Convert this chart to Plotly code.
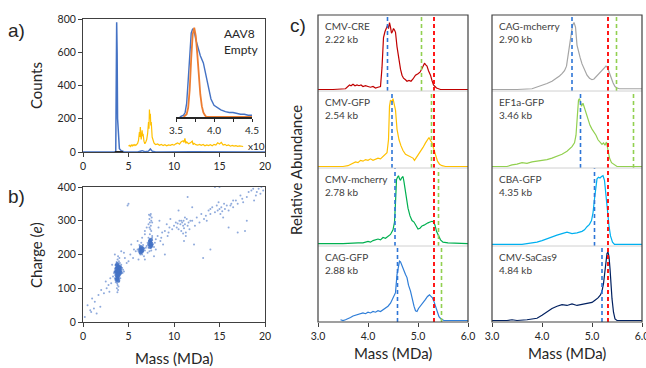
import plotly.graph_objects as go

W, H = 646, 368
def fx(p): return p / W
def fy(p): return 1 - p / H

# ---------------- Panel a data ----------------
a_blue_mass = [0, 3.5, 3.6, 3.65, 3.7, 3.75, 3.8, 3.9, 4.0, 4.2, 4.5, 5.0, 6.0, 6.3, 6.5, 6.8, 7.2, 7.4, 7.6, 8.0, 10.0, 12.0, 20.0]
a_blue_counts = [0, 0, 5, 300, 780, 600, 200, 60, 20, 8, 2, 0, 0, 5, 8, 2, 5, 18, 5, 0, 2, 1, 0]

a_x10_mass = [5.0, 5.1, 5.2, 5.3, 5.4, 5.5, 5.6, 5.7, 5.8, 5.9, 6.0, 6.1, 6.2, 6.25, 6.3, 6.35, 6.4, 6.5, 6.55, 6.6, 6.7, 6.8, 6.9,
              7.0, 7.1, 7.2, 7.25, 7.3, 7.35, 7.4, 7.45, 7.5, 7.6, 7.7, 7.8, 7.9, 8.0,
              8.2, 8.4, 8.6, 8.8, 9.0, 9.2, 9.4, 9.6, 9.8, 10.0, 10.2, 10.4, 10.6, 10.8, 11.0, 11.1, 11.2, 11.3, 11.4, 11.6, 11.8,
              12.0, 12.1, 12.2, 12.4, 12.6, 12.8, 13.0, 13.2, 13.4, 13.6, 13.8, 14.0, 14.2, 14.4, 14.6, 14.8, 15.0, 15.2,
              15.4, 15.6, 15.8, 16.0, 16.2, 16.4, 16.6, 16.8, 17.0, 17.2, 17.4, 17.6]
a_x10_counts = [35, 40, 33, 42, 36, 44, 38, 45, 40, 48, 52, 70, 120, 90, 150, 100, 75, 130, 95, 110, 65, 50, 60,
                75, 110, 180, 140, 255, 200, 230, 160, 180, 90, 60, 55, 48, 45,
                48, 40, 46, 39, 44, 37, 43, 40, 46, 41, 49, 55, 47, 62, 68, 58, 82, 52, 60, 50, 55,
                65, 45, 52, 44, 41, 46, 40, 45, 37, 43, 39, 44, 38, 46, 42, 55, 48, 58,
                42, 46, 38, 42, 35, 40, 36, 38, 34, 37, 35, 33]

inset_mass_blue = [3.55, 3.6, 3.62, 3.64, 3.66, 3.68, 3.70, 3.72, 3.74, 3.76, 3.78, 3.80, 3.82, 3.84, 3.86, 3.88, 3.90, 3.93, 3.96,
                   4.0, 4.05, 4.09, 4.15, 4.2, 4.25, 4.3, 4.35, 4.4, 4.45, 4.5]
inset_blue = [0, 0.02, 0.05, 0.15, 0.4, 0.72, 0.93, 0.98, 0.95, 0.86, 0.78, 0.74, 0.68, 0.64, 0.6, 0.52, 0.44, 0.3, 0.2,
              0.13, 0.1, 0.08, 0.06, 0.05, 0.05, 0.04, 0.03, 0.03, 0.02, 0.02]
inset_mass_orange = [3.6, 3.64, 3.66, 3.68, 3.70, 3.72, 3.74, 3.76, 3.78, 3.80, 3.82, 3.84, 3.86, 3.88, 3.9, 4.0, 4.5]
inset_orange = [0, 0.03, 0.1, 0.3, 0.65, 0.92, 0.99, 0.9, 0.7, 0.45, 0.25, 0.12, 0.05, 0.02, 0.0, 0.0, 0.0]

# ---------------- Panel b data ----------------
b_mass = [3.55, 3.6, 3.62, 3.65, 3.68, 3.7, 3.72, 3.74, 3.75, 3.78, 3.8, 3.8, 3.82, 3.84, 3.85, 3.87, 3.88, 3.9, 3.92, 3.93,
          3.95, 3.97, 4.0, 4.02, 4.05, 4.08, 4.1, 4.12, 4.15, 4.2, 4.25, 4.3, 3.7, 3.75, 3.8, 3.85, 3.9, 3.65, 3.6, 3.72,
          3.85, 3.78, 3.9, 3.5, 3.45, 3.4, 3.58, 3.7, 3.8, 3.85, 3.95, 4.05, 4.2, 4.35, 4.4, 4.5, 3.3, 3.95, 4.1, 4.0,
          6.1, 6.2, 6.25, 6.3, 6.35, 6.4, 6.45, 6.5, 6.55, 6.6, 6.7, 6.8, 6.3, 6.5, 6.2, 6.6, 6.0, 6.9, 6.4, 6.7,
          7.0, 7.1, 7.2, 7.25, 7.3, 7.35, 7.4, 7.45, 7.5, 7.55, 7.6, 7.7, 7.8, 7.3, 7.5, 7.2, 7.6, 7.9, 8.0, 7.1,
          7.2, 7.3, 7.35, 7.4, 7.45, 7.5, 7.55, 7.3, 7.6, 7.4, 7.25, 7.5, 7.35, 7.45,
          10.3, 10.5, 10.7, 10.8, 10.9, 11.0, 11.05, 11.1, 11.2, 11.3, 11.4, 11.5, 11.7, 11.0, 11.2, 10.6, 11.6, 11.8, 10.4, 11.3, 11.1,
          14.2, 14.5, 14.7, 14.8, 15.0, 15.1, 15.2, 15.3, 15.5, 15.6, 15.8, 16.0, 14.9, 15.4, 16.3, 16.5, 14.0,
          0.2, 0.5, 0.8, 1.0, 1.3, 1.2, 1.5, 1.7, 2.0, 2.3, 2.5, 2.8, 3.0, 3.2, 2.9, 1.9, 4.8, 5.0, 5.2, 5.5,
          5.8, 4.5, 5.0, 4.9, 6.0, 6.5, 6.8, 8.2, 8.5, 8.7, 9.0, 9.3, 9.5, 8.8, 9.2, 9.8, 10.0, 10.2, 8.3, 8.0,
          9.0, 12.0, 12.3, 12.5, 12.8, 13.0, 13.3, 13.5, 13.2, 12.2, 14.0, 13.6, 14.0, 16.8, 17.0, 17.3, 17.5, 17.8, 18.0, 18.2,
          18.5, 18.8, 19.0, 19.3, 19.6, 19.5, 19.8, 16.0, 17.0, 18.0, 18.7, 11.5, 14.5, 15.0, 16.5, 12.0, 10.5, 6.8, 7.0, 7.6,
          8.4, 9.6, 3.5, 4.2, 5.3, 6.1, 6.8, 7.8, 2.6, 3.1, 4.6, 5.6, 8.6, 9.4, 10.8, 13.8, 16.2, 17.6, 19.1, 0.9]
b_charge = [140, 152, 160, 145, 135, 155, 148, 165, 140, 158, 150, 130, 170, 145, 155, 138, 162, 150, 143, 157,
            165, 148, 152, 140, 158, 147, 162, 150, 143, 155, 150, 160, 120, 115, 110, 125, 128, 125, 118, 100,
            95, 88, 105, 130, 150, 145, 170, 178, 185, 195, 180, 175, 170, 145, 155, 150, 135, 120, 130, 190,
            210, 218, 205, 222, 212, 218, 208, 215, 222, 210, 218, 212, 200, 200, 228, 228, 215, 220, 235, 195,
            225, 235, 220, 240, 228, 245, 232, 220, 238, 228, 242, 230, 222, 210, 212, 250, 255, 235, 245, 205,
            290, 305, 295, 315, 285, 300, 310, 280, 295, 275, 318, 270, 260, 320,
            280, 275, 290, 270, 295, 285, 300, 278, 290, 265, 305, 285, 275, 262, 310, 300, 295, 300, 292, 255, 240,
            340, 325, 345, 330, 335, 320, 340, 328, 350, 335, 345, 330, 355, 310, 350, 340, 335,
            15, 50, 35, 70, 60, 40, 25, 80, 95, 85, 120, 110, 130, 170, 90, 45, 175, 180, 200, 190,
            210, 205, 350, 345, 240, 250, 260, 255, 240, 265, 270, 255, 280, 230, 290, 275, 285, 295, 280, 215,
            200, 300, 285, 310, 295, 320, 305, 315, 190, 230, 215, 300, 320, 360, 350, 375, 365, 270, 370, 385,
            390, 360, 375, 395, 400, 380, 390, 280, 265, 300, 395, 370, 400, 400, 360, 340, 330, 270, 280, 250,
            300, 305, 200, 210, 230, 185, 185, 195, 100, 115, 190, 215, 250, 265, 300, 330, 345, 355, 385, 30]
b_core_mass = [3.62, 3.7, 3.8, 3.9, 4.0, 3.75, 3.85, 3.7, 3.85, 4.05, 3.95, 3.8, 3.65, 4.1, 3.72, 3.92, 3.78, 3.98, 3.68, 3.88,
               3.75, 3.82, 3.95, 4.08,
               6.28, 6.4, 6.5, 6.35, 6.55, 6.45, 6.32,
               7.28, 7.4, 7.5, 7.35, 7.45, 7.38, 7.52, 7.42]
b_core_charge = [148, 150, 145, 152, 150, 160, 163, 138, 135, 155, 140, 128, 158, 146, 168, 165, 172, 160, 125, 122,
                 130, 142, 152, 162,
                 214, 216, 212, 222, 218, 208, 206,
                 230, 236, 225, 240, 244, 222, 232, 228]

# ---------------- Panel c data ----------------
c_names = ["CMV-CRE", "CMV-GFP", "CMV-mcherry", "CAG-GFP", "CAG-mcherry", "EF1a-GFP", "CBA-GFP", "CMV-SaCas9"]
c_sizes = ["2.22 kb", "2.54 kb", "2.78 kb", "2.88 kb", "2.90 kb", "3.46 kb", "4.35 kb", "4.84 kb"]
c_colors = ["#C00000", "#FFC000", "#00B050", "#2F7ED8", "#A5A5A5", "#92D050", "#00B0F0", "#002060"]
c_blue_line = [4.39, 4.48, 4.54, 4.59, 4.60, 4.77, 5.05, 5.20]
c_green_line = [5.07, 5.27, 5.41, 5.47, 5.49, 5.83, None, None]
c_red_line = 5.32

cmv_cre_mass = [3.0, 3.3, 3.55, 3.6, 3.63, 3.66, 3.7, 3.74, 3.78, 3.82, 3.86, 3.9, 3.95, 4.0, 4.05, 4.1, 4.15, 4.2, 4.25, 4.28,
                4.31, 4.34, 4.37, 4.39, 4.41, 4.43, 4.45, 4.47, 4.49, 4.51, 4.53, 4.55, 4.58, 4.62, 4.65, 4.68, 4.71, 4.75, 4.78, 4.82,
                4.86, 4.9, 4.95, 5.0, 5.04, 5.08, 5.11, 5.13, 5.15, 5.18, 5.21, 5.25, 5.28, 5.31, 5.34, 5.37, 5.41, 5.45, 5.5, 5.7, 6.0]
cmv_cre_abund = [0.01, 0.01, 0.02, 0.06, 0.07, 0.06, 0.08, 0.06, 0.07, 0.06, 0.07, 0.05, 0.06, 0.05, 0.04, 0.05, 0.03, 0.04, 0.05, 0.3,
                 0.7, 0.78, 0.84, 0.86, 0.82, 0.9, 0.84, 0.76, 0.78, 0.82, 0.8, 0.77, 0.58, 0.38, 0.28, 0.2, 0.16, 0.14, 0.12, 0.13,
                 0.12, 0.15, 0.2, 0.22, 0.24, 0.29, 0.33, 0.36, 0.34, 0.32, 0.26, 0.2, 0.13, 0.07, 0.05, 0.03, 0.02, 0.01, 0.01, 0.01, 0.01]

cmv_gfp_mass = [3.0, 3.5, 3.6, 3.65, 3.7, 3.75, 3.8, 3.85, 3.9, 3.95, 4.0, 4.05, 4.1, 4.15, 4.2, 4.25, 4.3, 4.35, 4.38, 4.41,
                4.43, 4.45, 4.48, 4.5, 4.52, 4.55, 4.58, 4.62, 4.66, 4.7, 4.75, 4.8, 4.85, 4.9, 4.93, 4.97, 5.0, 5.05, 5.1, 5.15,
                5.19, 5.22, 5.25, 5.28, 5.31, 5.35, 5.39, 5.43, 5.48, 5.55, 6.0]
cmv_gfp_abund = [0.01, 0.01, 0.02, 0.04, 0.05, 0.07, 0.06, 0.09, 0.08, 0.1, 0.09, 0.11, 0.09, 0.1, 0.12, 0.11, 0.14, 0.16, 0.19, 0.36,
                 0.8, 0.88, 0.86, 0.9, 0.85, 0.75, 0.5, 0.36, 0.28, 0.22, 0.17, 0.15, 0.13, 0.12, 0.09, 0.13, 0.15, 0.2, 0.26, 0.32,
                 0.37, 0.39, 0.35, 0.32, 0.25, 0.15, 0.08, 0.04, 0.02, 0.01, 0.01]

cmv_mch_mass = [3.0, 3.5, 3.8, 3.9, 4.0, 4.05, 4.1, 4.15, 4.2, 4.25, 4.3, 4.35, 4.4, 4.45, 4.5, 4.53, 4.55, 4.57, 4.59, 4.61,
                4.63, 4.65, 4.67, 4.7, 4.72, 4.74, 4.77, 4.8, 4.84, 4.88, 4.92, 4.96, 5.0, 5.04, 5.08, 5.12, 5.16, 5.2, 5.24, 5.28,
                5.31, 5.34, 5.37, 5.41, 5.45, 5.5, 5.6, 6.0]
cmv_mch_abund = [0.02, 0.02, 0.03, 0.03, 0.05, 0.04, 0.06, 0.07, 0.08, 0.07, 0.1, 0.09, 0.12, 0.14, 0.2, 0.3, 0.55, 0.85, 0.88, 0.9,
                 0.86, 0.84, 0.87, 0.89, 0.82, 0.72, 0.6, 0.48, 0.38, 0.32, 0.3, 0.25, 0.21, 0.22, 0.25, 0.26, 0.28, 0.29, 0.3, 0.31,
                 0.3, 0.26, 0.18, 0.12, 0.07, 0.04, 0.03, 0.02]

cag_gfp_mass = [3.45, 3.5, 3.55, 3.6, 3.65, 3.7, 3.78, 3.85, 3.9, 3.95, 4.0, 4.05, 4.1, 4.15, 4.2, 4.25, 4.3, 4.35, 4.4, 4.45,
                4.5, 4.55, 4.58, 4.61, 4.63, 4.65, 4.67, 4.69, 4.72, 4.75, 4.78, 4.81, 4.85, 4.88, 4.92, 4.95, 4.98, 5.01, 5.05, 5.1,
                5.15, 5.19, 5.23, 5.26, 5.29, 5.32, 5.35, 5.38, 5.42, 5.46, 5.52, 5.6, 6.0]
cag_gfp_abund = [0.02, 0.01, 0.02, 0.03, 0.05, 0.07, 0.09, 0.1, 0.11, 0.1, 0.12, 0.11, 0.13, 0.12, 0.14, 0.13, 0.15, 0.17, 0.2, 0.24,
                 0.3, 0.38, 0.62, 0.76, 0.8, 0.79, 0.75, 0.72, 0.66, 0.62, 0.58, 0.48, 0.4, 0.3, 0.2, 0.14, 0.13, 0.17, 0.2, 0.25,
                 0.29, 0.33, 0.35, 0.33, 0.31, 0.26, 0.2, 0.11, 0.06, 0.03, 0.01, 0.01, 0.01]

cag_mch_mass = [3.0, 3.5, 3.8, 3.9, 4.0, 4.1, 4.2, 4.3, 4.35, 4.4, 4.45, 4.49, 4.52, 4.55, 4.58, 4.61, 4.64, 4.67, 4.7, 4.73,
                4.76, 4.8, 4.85, 4.9, 4.95, 5.0, 5.04, 5.08, 5.12, 5.16, 5.2, 5.24, 5.28, 5.31, 5.34, 5.38, 5.42, 5.46, 5.5, 5.55, 6.0]
cag_mch_abund = [0.01, 0.01, 0.02, 0.04, 0.06, 0.09, 0.12, 0.16, 0.19, 0.22, 0.26, 0.32, 0.45, 0.58, 0.75, 0.86, 0.9, 0.84, 0.6, 0.5,
                 0.44, 0.35, 0.28, 0.2, 0.16, 0.14, 0.15, 0.18, 0.2, 0.23, 0.26, 0.29, 0.32, 0.3, 0.24, 0.16, 0.1, 0.05, 0.03, 0.02, 0.02]

ef1a_mass = [3.0, 3.3, 3.4, 3.5, 3.6, 3.7, 3.8, 3.9, 4.0, 4.1, 4.2, 4.3, 4.4, 4.5, 4.55, 4.6, 4.65, 4.68, 4.71, 4.73,
             4.75, 4.77, 4.79, 4.82, 4.85, 4.88, 4.92, 4.96, 5.0, 5.04, 5.08, 5.12, 5.16, 5.2, 5.23, 5.26, 5.29, 5.32, 5.35, 5.39,
             5.45, 5.5, 6.0]
ef1a_abund = [0.01, 0.01, 0.03, 0.04, 0.06, 0.05, 0.07, 0.08, 0.09, 0.1, 0.12, 0.14, 0.17, 0.21, 0.24, 0.27, 0.32, 0.42, 0.7, 0.88,
              0.9, 0.82, 0.8, 0.84, 0.78, 0.72, 0.62, 0.55, 0.5, 0.46, 0.42, 0.36, 0.33, 0.3, 0.32, 0.29, 0.33, 0.2, 0.12, 0.06,
              0.03, 0.01, 0.01]

cba_mass = [3.0, 3.6, 3.7, 3.8, 3.9, 4.0, 4.1, 4.2, 4.3, 4.4, 4.5, 4.6, 4.7, 4.8, 4.85, 4.9, 4.95, 4.99, 5.02, 5.05,
            5.08, 5.1, 5.13, 5.16, 5.19, 5.22, 5.25, 5.28, 5.31, 5.34, 5.37, 5.41, 5.45, 6.0]
cba_abund = [0.01, 0.01, 0.02, 0.03, 0.04, 0.06, 0.08, 0.1, 0.13, 0.15, 0.17, 0.15, 0.16, 0.18, 0.2, 0.24, 0.27, 0.32, 0.42, 0.6,
             0.75, 0.86, 0.88, 0.87, 0.89, 0.9, 0.84, 0.62, 0.42, 0.25, 0.12, 0.04, 0.01, 0.01]

sacas9_mass = [3.0, 3.3, 3.4, 3.5, 3.7, 3.9, 4.0, 4.1, 4.2, 4.3, 4.4, 4.5, 4.6, 4.7, 4.8, 4.9, 5.0, 5.06, 5.12, 5.17,
               5.2, 5.23, 5.26, 5.28, 5.3, 5.32, 5.34, 5.36, 5.38, 5.4, 5.43, 5.46, 5.5, 6.0]
sacas9_abund = [0.01, 0.01, 0.02, 0.01, 0.02, 0.04, 0.08, 0.13, 0.17, 0.2, 0.22, 0.21, 0.23, 0.21, 0.22, 0.23, 0.25, 0.28, 0.31, 0.35,
                0.4, 0.5, 0.68, 0.82, 0.9, 0.92, 0.86, 0.7, 0.48, 0.3, 0.12, 0.03, 0.01, 0.01]

c_mass = [cmv_cre_mass, cmv_gfp_mass, cmv_mch_mass, cag_gfp_mass, cag_mch_mass, ef1a_mass, cba_mass, sacas9_mass]
c_abund = [cmv_cre_abund, cmv_gfp_abund, cmv_mch_abund, cag_gfp_abund, cag_mch_abund, ef1a_abund, cba_abund, sacas9_abund]

# ---------------- Figure ----------------
FONT = "Lato"
TXT = "#262626"
fig = go.Figure()

fig.add_trace(go.Scatter(x=a_blue_mass, y=a_blue_counts, mode="lines", line=dict(color="#4472C4", width=1.5),
                         xaxis="x", yaxis="y"))
fig.add_trace(go.Scatter(x=a_x10_mass, y=a_x10_counts, mode="lines", line=dict(color="#FFC000", width=1.2),
                         xaxis="x", yaxis="y"))
fig.add_trace(go.Scatter(x=inset_mass_blue, y=inset_blue, mode="lines", line=dict(color="#4472C4", width=1.4),
                         xaxis="x2", yaxis="y2"))
fig.add_trace(go.Scatter(x=inset_mass_orange, y=inset_orange, mode="lines", line=dict(color="#ED7D31", width=1.8),
                         xaxis="x2", yaxis="y2"))
fig.add_trace(go.Scatter(x=b_mass, y=b_charge, mode="markers",
                         marker=dict(color="#4472C4", size=2, opacity=0.6, line=dict(width=0)),
                         xaxis="x3", yaxis="y3"))
fig.add_trace(go.Scatter(x=b_core_mass, y=b_core_charge, mode="markers",
                         marker=dict(color="#4472C4", size=4, opacity=0.85, line=dict(width=0)),
                         xaxis="x3", yaxis="y3"))

colL, colR = (318, 468), (492, 642)
sub_edges = [15, 91, 168, 246, 322]
shapes = []
annotations = []
DASH = "4px,3px"
for i in range(8):
    col = 0 if i < 4 else 1
    k = i % 4
    xa = "x4" if col == 0 else "x5"
    ya_num = 4 + i
    fig.add_trace(go.Scatter(x=c_mass[i], y=c_abund[i], mode="lines",
                             line=dict(color=c_colors[i], width=1.2),
                             xaxis=xa, yaxis=f"y{ya_num}"))
    shapes.append(dict(type="line", xref=xa, yref=f"y{ya_num} domain", x0=c_blue_line[i], x1=c_blue_line[i],
                       y0=0, y1=1, line=dict(color="#2E75D6", width=1.6, dash=DASH)))
    if c_green_line[i] is not None:
        shapes.append(dict(type="line", xref=xa, yref=f"y{ya_num} domain", x0=c_green_line[i], x1=c_green_line[i],
                           y0=0, y1=1, line=dict(color="#92D050", width=1.6, dash=DASH)))
    xl = 323 if col == 0 else 497
    annotations.append(dict(text=f"{c_names[i]}<br>{c_sizes[i]}", xref="paper", yref="paper",
                            x=fx(xl), y=fy(sub_edges[k] + 3), xanchor="left", yanchor="top", align="left",
                            showarrow=False, font=dict(family=FONT, size=10, color="#404040")))

for xa, (c0, c1) in (("x4", colL), ("x5", colR)):
    shapes.append(dict(type="line", xref=xa, yref="paper", x0=c_red_line, x1=c_red_line,
                       y0=fy(sub_edges[-1]), y1=fy(sub_edges[0]), line=dict(color="#FF0000", width=1.8, dash=DASH)))
    for e in sub_edges[1:-1]:
        shapes.append(dict(type="line", xref="paper", yref="paper", x0=fx(c0), x1=fx(c1), y0=fy(e), y1=fy(e),
                           line=dict(color="#D0D0D0", width=1)))
    shapes.append(dict(type="rect", xref="paper", yref="paper", x0=fx(c0), x1=fx(c1), y0=fy(322), y1=fy(15),
                       line=dict(color="#404040", width=1.2)))

shapes.append(dict(type="line", xref="x", yref="y", x0=3.5, x1=4.4, y0=0, y1=0, line=dict(color="#262626", width=2)))

tickfont = dict(family=FONT, size=10.5, color=TXT)
frame_col = "#404040"
common = dict(showgrid=False, zeroline=False, automargin=False)
layout = dict(
    template="none",
    width=W, height=H, margin=dict(l=0, r=0, t=0, b=0, autoexpand=False),
    paper_bgcolor="white", plot_bgcolor="rgba(0,0,0,0)", showlegend=False,
    xaxis=dict(domain=[fx(83), fx(265)], anchor="y", range=[0, 20], tickvals=[0, 5, 10, 15, 20],
               showline=True, mirror=True, linecolor=frame_col, linewidth=1,
               ticks="outside", ticklen=4, tickcolor="#404040", tickfont=tickfont, **common),
    yaxis=dict(domain=[fy(152), fy(19)], anchor="x", range=[0, 800], tickvals=[0, 200, 400, 600, 800],
               showline=True, mirror=True, linecolor=frame_col, linewidth=1,
               ticks="outside", ticklen=4, tickcolor="#404040", tickfont=tickfont, **common),
    xaxis2=dict(domain=[fx(176), fx(252)], anchor="y2", range=[3.5, 4.5],
                tickvals=[3.5, 3.75, 4.0, 4.25, 4.5], ticktext=["3.5", "", "4.0", "", "4.5"],
                showline=True, linecolor="#262626", linewidth=1.5,
                ticks="outside", ticklen=3, tickcolor="#262626", tickfont=dict(family=FONT, size=10, color=TXT), **common),
    yaxis2=dict(domain=[fy(117), fy(25)], anchor="x2", range=[0, 1.02], visible=False, **common),
    xaxis3=dict(domain=[fx(83), fx(265)], anchor="y3", range=[0, 20], tickvals=[0, 5, 10, 15, 20],
                showline=True, mirror=True, linecolor=frame_col, linewidth=1,
                ticks="outside", ticklen=4, tickcolor="#404040", tickfont=tickfont, **common),
    yaxis3=dict(domain=[fy(322), fy(187)], anchor="x3", range=[0, 400], tickvals=[0, 100, 200, 300, 400],
                showline=True, mirror=True, linecolor=frame_col, linewidth=1,
                ticks="outside", ticklen=4, tickcolor="#404040", tickfont=tickfont, **common),
    xaxis4=dict(domain=[fx(colL[0]), fx(colL[1])], anchor="y7", range=[3, 6], tickvals=[3, 4, 5, 6],
                ticktext=["3.0", "4.0", "5.0", "6.0"], showline=False, ticklabeloverflow="allow",
                ticks="outside", ticklen=4, tickcolor="#404040", tickfont=tickfont, **common),
    xaxis5=dict(domain=[fx(colR[0]), fx(colR[1])], anchor="y11", range=[3, 6], tickvals=[3, 4, 5, 6],
                ticktext=["3.0", "4.0", "5.0", "6.0"], showline=False, ticklabeloverflow="allow",
                ticks="outside", ticklen=4, tickcolor="#404040", tickfont=tickfont, **common),
)
for i in range(8):
    k = i % 4
    layout[f"yaxis{4 + i}"] = dict(domain=[fy(sub_edges[k + 1]), fy(sub_edges[k])],
                                   anchor="x4" if i < 4 else "x5", range=[-0.01, 1.0], visible=False, **common)

def ann(text, px, py, size=15, angle=0, xanchor="center", family=FONT):
    annotations.append(dict(text=text, xref="paper", yref="paper", x=fx(px), y=fy(py), xanchor=xanchor,
                            yanchor="middle", showarrow=False, textangle=angle,
                            font=dict(family=family, size=size, color=TXT)))

ann("a)", 6, 30, size=19, xanchor="left", family="Liberation Sans")
ann("b)", 6, 196, size=19, xanchor="left", family="Liberation Sans")
ann("c)", 288, 25, size=19, xanchor="left", family="Liberation Sans")
ann("Counts", 36, 86, angle=-90)
ann("Charge (<i>e</i>)", 36, 255, angle=-90)
ann("Mass (MDa)", 174, 358)
ann("Mass (MDa)", 393, 353)
ann("Mass (MDa)", 567, 353)
ann("Relative Abundance", 296, 170, angle=-90)
ann("x10", 246, 146, size=10, xanchor="left")
annotations.append(dict(text="AAV8<br>Empty", xref="paper", yref="paper", x=fx(222), y=fy(24),
                        xanchor="left", yanchor="top", align="left", showarrow=False,
                        font=dict(family=FONT, size=12, color=TXT)))

layout["shapes"] = shapes
layout["annotations"] = annotations
fig.update_layout(**layout)
fig.write_html("out.html", config={"displayModeBar": False, "staticPlot": True},
               post_script="document.body.style.margin='0px';document.body.style.overflow='hidden';")
